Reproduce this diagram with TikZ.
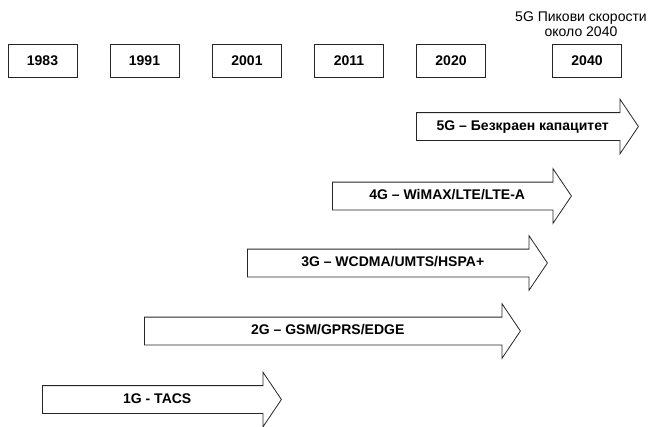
\documentclass[tikz,border=0pt]{standalone}
\usepackage{fontspec}
\setmainfont{Liberation Sans}
\usetikzlibrary{shapes.arrows}

\tikzset{
  year/.style={draw=black!85, line width=0.8pt, rectangle, minimum width=69pt, minimum height=33pt,
    font=\fontsize{14}{16}\selectfont\bfseries},
  gen/.style={draw=black!85, line width=0.8pt, single arrow, anchor=tail,
    single arrow head extend=13.5pt, single arrow tip angle=112,
    text height=10pt, text depth=3pt, inner ysep=7pt, inner xsep=0pt,
    font=\fontsize{14}{16}\selectfont\bfseries}
}

\begin{document}
\begin{tikzpicture}[x=1pt,y=-1pt]
	\useasboundingbox (0,0) rectangle (656,426);

	% years
	\node[year] (y1983) at (42.5,60.5) {1983};
	\node[year] (y1991) at (144.5,60.5) {1991};
	\node[year] (y2001) at (247,60.5) {2001};
	\node[year] (y2011) at (349,60.5) {2011};
	\node[year] (y2020) at (451,60.5) {2020};
	\node[year] (y2040) at (587,60.5) {2040};

	\node[align=center, font=\fontsize{14}{15.5}\selectfont] (peak) at (581,24) {5G Пикови скорости\\около 2040};

	% generations
	\node[gen, minimum height=222pt] (g5) at (416,126.5) {5G – Безкраен капацитет};
	\node[gen, minimum height=239pt] (g4) at (332,196) {4G – WiMAX/LTE/LTE-A};
	\node[gen, minimum height=300pt] (g3) at (247,263) {3G – WCDMA/UMTS/HSPA+};
	\node[gen, minimum height=376pt] (g2) at (144,331) {2G – GSM/GPRS/EDGE};
	\node[gen, minimum height=239pt] (g1) at (42,399.5) {1G - TACS};

\end{tikzpicture}
\end{document}
